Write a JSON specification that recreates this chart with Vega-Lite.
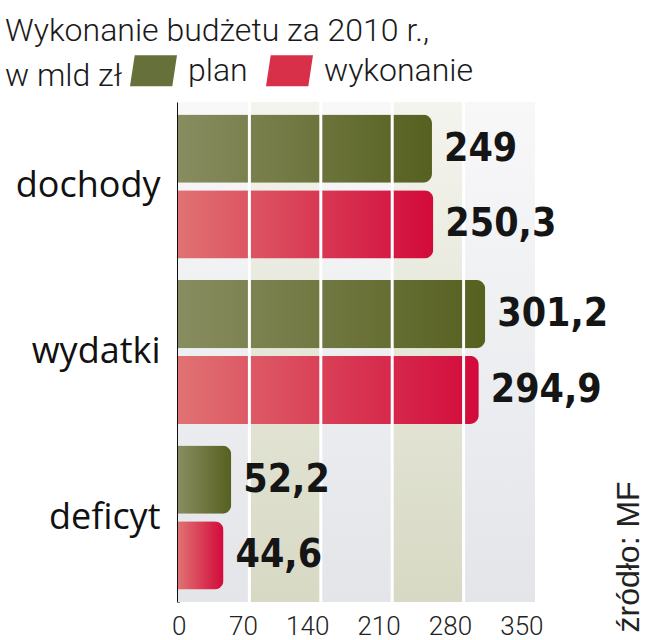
{
  "$schema": "https://vega.github.io/schema/vega-lite/v6.json",
  "autosize": {"type": "none"},
  "width": 357,
  "height": 500,
  "padding": {"left": 178, "top": 102, "right": 115, "bottom": 38},
  "background": "white",
  "config": {
    "view": {"stroke": null},
    "font": "Roboto"
  },
  "title": {
    "text": ["Wykonanie budżetu za 2010 r.,", "w mld zł"],
    "anchor": "start",
    "frame": "group",
    "dx": -173,
    "dy": 54,
    "offset": 8,
    "font": "Roboto",
    "fontSize": 32,
    "fontWeight": 300,
    "color": "#1a1a1a",
    "lineHeight": 45
  },
  "datasets": {
    "budzet": [
      {"kategoria": "dochody", "seria": "plan", "wartosc": 249, "etykieta": "249"},
      {"kategoria": "dochody", "seria": "wykonanie", "wartosc": 250.3, "etykieta": "250,3"},
      {"kategoria": "wydatki", "seria": "plan", "wartosc": 301.2, "etykieta": "301,2"},
      {"kategoria": "wydatki", "seria": "wykonanie", "wartosc": 294.9, "etykieta": "294,9"},
      {"kategoria": "deficyt", "seria": "plan", "wartosc": 52.2, "etykieta": "52,2"},
      {"kategoria": "deficyt", "seria": "wykonanie", "wartosc": 44.6, "etykieta": "44,6"}
    ],
    "tlo": [
      {"od": 0, "do": 350, "typ": "tlo"},
      {"od": 70, "do": 140, "typ": "pas"},
      {"od": 210, "do": 280, "typ": "pas"}
    ],
    "siatka": [
      {"x": 70}, {"x": 140}, {"x": 210}, {"x": 280}
    ]
  },
  "resolve": {"axis": {"y": "independent"}},
  "layer": [
    {
      "data": {"name": "tlo"},
      "transform": [{"filter": "datum.typ === 'tlo'"}],
      "mark": {
        "type": "rect",
        "fill": {"gradient": "linear", "x1": 0, "y1": 0, "x2": 0, "y2": 1,
          "stops": [{"offset": 0, "color": "#f8f8f9"}, {"offset": 1, "color": "#e3e5e9"}]}
      },
      "encoding": {
        "x": {
          "field": "od", "type": "quantitative", "title": null,
          "scale": {"domain": [0, 350], "nice": false, "zero": true},
          "axis": {
            "orient": "bottom", "title": null, "values": [0, 70, 140, 210, 280, 350],
            "domain": false, "ticks": false, "grid": false,
            "labelFont": "Roboto", "labelFontSize": 26, "labelFontWeight": 300, "labelColor": "#222222",
            "labelPadding": 11, "labelAlign": "right", "labelOffset": 8, "labelFlush": false
          }
        },
        "x2": {"field": "do"}
      }
    },
    {
      "data": {"name": "tlo"},
      "transform": [{"filter": "datum.typ === 'pas'"}],
      "mark": {
        "type": "rect",
        "fill": {"gradient": "linear", "x1": 0, "y1": 0, "x2": 0, "y2": 1,
          "stops": [{"offset": 0, "color": "#f4f4ee"}, {"offset": 1, "color": "#d7d9c4"}]}
      },
      "encoding": {
        "x": {"field": "od", "type": "quantitative", "title": null},
        "x2": {"field": "do"}
      }
    },
    {
      "data": {"name": "budzet"},
      "transform": [{"filter": "datum.seria === 'plan'"}],
      "mark": {"type": "bar", "cornerRadiusEnd": 9,
        "fill": {"gradient": "linear", "x1": 0, "y1": 0, "x2": 1, "y2": 0,
          "stops": [{"offset": 0, "color": "#888d60"}, {"offset": 1, "color": "#56601f"}]}},
      "encoding": {
        "y": {
          "field": "kategoria", "type": "nominal", "sort": ["dochody", "wydatki", "deficyt"],
          "scale": {"paddingInner": 0.13, "paddingOuter": 0.075},
          "axis": {
            "orient": "left", "title": null, "ticks": false,
            "domain": true, "domainColor": "#111111", "domainWidth": 3,
            "labelFont": "Open Sans", "labelFontSize": 36, "labelColor": "#111111",
            "labelPadding": 18
          }
        },
        "yOffset": {
          "field": "seria", "type": "nominal",
          "scale": {"domain": ["plan", "wykonanie"], "paddingInner": 0.1, "paddingOuter": 0}
        },
        "x": {"field": "wartosc", "type": "quantitative", "title": null}
      }
    },
    {
      "data": {"name": "budzet"},
      "transform": [{"filter": "datum.seria === 'wykonanie'"}],
      "mark": {"type": "bar", "cornerRadiusEnd": 9,
        "fill": {"gradient": "linear", "x1": 0, "y1": 0, "x2": 1, "y2": 0,
          "stops": [{"offset": 0, "color": "#e07272"}, {"offset": 1, "color": "#d20a3b"}]}},
      "encoding": {
        "y": {"field": "kategoria", "type": "nominal", "sort": ["dochody", "wydatki", "deficyt"], "axis": null},
        "yOffset": {"field": "seria", "type": "nominal"},
        "x": {"field": "wartosc", "type": "quantitative", "title": null}
      }
    },
    {
      "data": {"name": "budzet"},
      "mark": {"type": "bar"},
      "encoding": {
        "y": {"field": "kategoria", "type": "nominal", "sort": ["dochody", "wydatki", "deficyt"], "axis": null},
        "yOffset": {"field": "seria", "type": "nominal"},
        "x": {"datum": 0, "type": "quantitative", "title": null},
        "x2": {"datum": 0},
        "color": {
          "field": "seria", "type": "nominal",
          "scale": {"domain": ["plan", "wykonanie"], "range": ["#66703a", "#d83048"]},
          "legend": {
            "orient": "none", "direction": "horizontal", "legendX": -48, "legendY": -55,
            "title": null,
            "symbolType": "M -0.8,-0.66 L 1,-0.66 L 0.8,0.66 L -1,0.66 Z",
            "symbolSize": 2209, "symbolStrokeWidth": 0,
            "labelFont": "Roboto", "labelFontSize": 32, "labelFontWeight": 300, "labelColor": "#1a1a1a",
            "labelLimit": 400,
            "labelOffset": 11, "columnPadding": 18,
            "encode": {
              "symbols": {
                "enter": {
                  "fill": {"signal": "datum.value === 'plan' ? {gradient: 'linear', x1: 0, y1: 0, x2: 0, y2: 1, stops: [{offset: 0, color: '#4e5a20'}, {offset: 1, color: '#7f8652'}]} : {gradient: 'linear', x1: 0, y1: 0, x2: 0, y2: 1, stops: [{offset: 0, color: '#e06a6a'}, {offset: 1, color: '#c9102f'}]}"}
                },
                "update": {
                  "fill": {"signal": "datum.value === 'plan' ? {gradient: 'linear', x1: 0, y1: 0, x2: 0, y2: 1, stops: [{offset: 0, color: '#4e5a20'}, {offset: 1, color: '#7f8652'}]} : {gradient: 'linear', x1: 0, y1: 0, x2: 0, y2: 1, stops: [{offset: 0, color: '#e06a6a'}, {offset: 1, color: '#c9102f'}]}"}
                }
              }
            }
          }
        }
      }
    },
    {
      "data": {"name": "siatka"},
      "mark": {"type": "rule", "color": "white", "strokeWidth": 3},
      "encoding": {
        "x": {"field": "x", "type": "quantitative", "title": null}
      }
    },
    {
      "data": {"name": "budzet"},
      "mark": {
        "type": "text", "align": "left", "baseline": "middle", "dx": 12,
        "font": "DejaVu Sans Condensed", "fontWeight": "bold", "fontSize": 39, "color": "#151515"
      },
      "encoding": {
        "y": {
          "field": "kategoria", "type": "nominal", "sort": ["dochody", "wydatki", "deficyt"],
          "axis": {
            "orient": "right", "labels": false, "ticks": false, "domain": false, "grid": false,
            "title": "źródło: MF", "titleAngle": -90, "titleX": 103, "titleY": 530,
            "titleAlign": "left", "titleBaseline": "alphabetic",
            "titleFont": "Liberation Sans", "titleFontSize": 32, "titleFontWeight": "normal",
            "titleColor": "#222222"
          }
        },
        "yOffset": {"field": "seria", "type": "nominal"},
        "x": {"field": "wartosc", "type": "quantitative", "title": null},
        "text": {"field": "etykieta", "type": "nominal"}
      }
    }
  ]
}
